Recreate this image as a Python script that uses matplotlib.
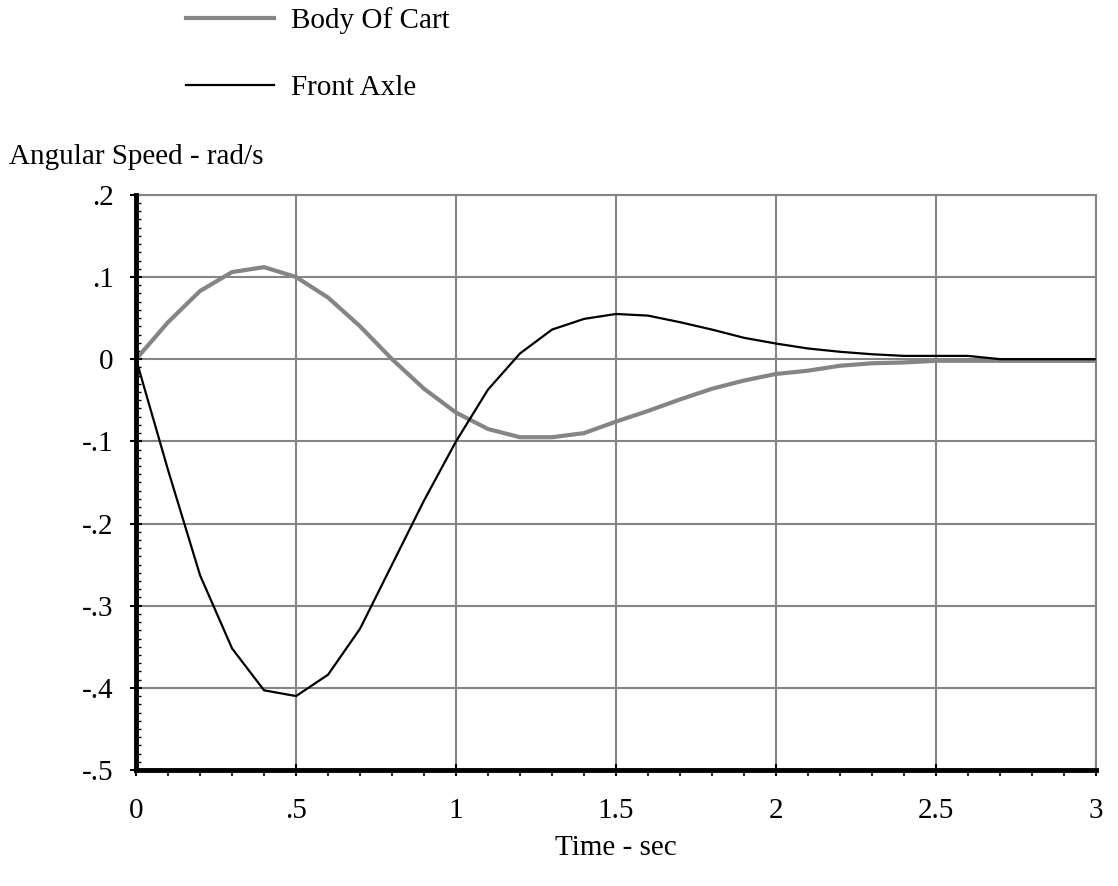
import numpy as np
import matplotlib
matplotlib.use("Agg")
import matplotlib.pyplot as plt
from matplotlib.ticker import MultipleLocator

plt.rcParams['font.family'] = ['Liberation Serif', 'DejaVu Serif']

# tiempo en segundos, cada 0.1 s
tiempo = [0.0, 0.1, 0.2, 0.3, 0.4, 0.5, 0.6, 0.7, 0.8, 0.9, 1.0,
          1.1, 1.2, 1.3, 1.4, 1.5, 1.6, 1.7, 1.8, 1.9, 2.0,
          2.1, 2.2, 2.3, 2.4, 2.5, 2.6, 2.7, 2.8, 2.9, 3.0]

# velocidad angular (rad/s)
cuerpo_carro = [0.0, 0.045, 0.083, 0.106, 0.112, 0.100, 0.075, 0.040, 0.000, -0.036, -0.065,
                -0.085, -0.095, -0.095, -0.090, -0.076, -0.063, -0.049, -0.036, -0.026, -0.018,
                -0.014, -0.008, -0.005, -0.004, -0.002, -0.002, -0.002, -0.002, -0.002, -0.002]
eje_delantero = [0.0, -0.135, -0.263, -0.352, -0.403, -0.410, -0.384, -0.328, -0.250, -0.172, -0.100,
                 -0.037, 0.007, 0.036, 0.049, 0.055, 0.053, 0.045, 0.036, 0.026, 0.019,
                 0.013, 0.009, 0.006, 0.004, 0.004, 0.004, 0.0, 0.0, 0.0, 0.0]

xticks = [0, 0.5, 1, 1.5, 2, 2.5, 3]
xtick_labels = ['0', '.5', '1', '1.5', '2', '2.5', '3']
yticks = [0.2, 0.1, 0, -0.1, -0.2, -0.3, -0.4, -0.5]
ytick_labels = ['.2', '.1', '0', '-.1', '-.2', '-.3', '-.4', '-.5']

fs = 21
gris = '#858585'

fig = plt.figure(figsize=(11.18, 8.86), dpi=100)
ax = fig.add_axes([0.1217, 0.1309, 0.8586, 0.6492])

l1, = ax.plot(tiempo, cuerpo_carro, color=gris, lw=3.0, label='Body Of Cart',
              solid_joinstyle='round', zorder=3)
l2, = ax.plot(tiempo, eje_delantero, color='black', lw=1.6, label='Front Axle', zorder=4)

ax.set_xlim(0, 3)
ax.set_ylim(-0.5, 0.2)
ax.set_xticks(xticks)
ax.set_xticklabels(xtick_labels, fontsize=fs)
ax.set_yticks(yticks)
ax.set_yticklabels(ytick_labels, fontsize=fs)
ax.xaxis.set_minor_locator(MultipleLocator(0.1))
ax.yaxis.set_minor_locator(MultipleLocator(0.01))

ax.grid(True, which='major', color=gris, lw=1.5)
ax.set_axisbelow(True)

for lado in ['top', 'right']:
    ax.spines[lado].set_color(gris)
    ax.spines[lado].set_linewidth(1.5)
for lado in ['left', 'bottom']:
    ax.spines[lado].set_color('black')
    ax.spines[lado].set_linewidth(3.5)
    ax.spines[lado].set_zorder(5)

ax.tick_params(axis='x', which='major', direction='inout', length=8, width=1.5, pad=16)
ax.tick_params(axis='x', which='minor', direction='out', length=4, width=1.2)
ax.tick_params(axis='y', which='major', direction='inout', length=8, width=1.5, pad=12)
ax.tick_params(axis='y', which='minor', direction='in', length=3.5, width=1.0)

fig.text(0.551, 0.043, 'Time - sec', fontsize=fs, ha='center', va='center')
fig.text(0.008, 0.823, 'Angular Speed - rad/s', fontsize=fs, ha='left', va='center')

fig.legend(handles=[l1, l2], loc='upper left', bbox_to_anchor=(0.143, 1.022),
           frameon=False, fontsize=fs, handlelength=3.0, handletextpad=0.6,
           labelspacing=1.4)

fig.savefig('out.png', dpi=100)
